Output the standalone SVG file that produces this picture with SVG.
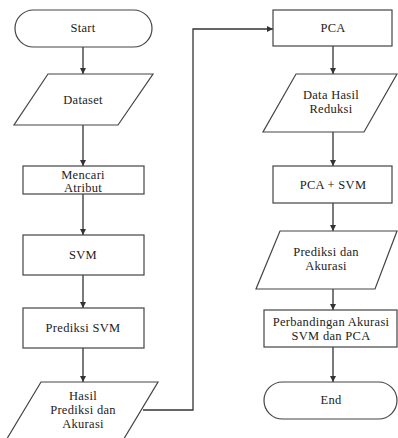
<svg xmlns="http://www.w3.org/2000/svg" width="398" height="438" viewBox="0 0 398 438">
<defs>
<marker id="ah" viewBox="0 0 8 8" refX="8" refY="4" markerWidth="6" markerHeight="6" markerUnits="userSpaceOnUse" orient="auto">
<path d="M0,0 L8,4 L0,8 z" fill="#333"/>
</marker>
</defs>
<style>
.s{fill:#fff;stroke:#444;stroke-width:1.2}
.c{fill:none;stroke:#333;stroke-width:1.3;marker-end:url(#ah)}
</style>
<rect width="398" height="438" fill="#fff"/>
<g id="connectors">
<line class="c" x1="83" y1="47" x2="83" y2="74"/>
<line class="c" x1="83" y1="125" x2="83" y2="166"/>
<line class="c" x1="83" y1="194" x2="83" y2="235"/>
<line class="c" x1="83" y1="275" x2="83" y2="308"/>
<line class="c" x1="83" y1="348" x2="83" y2="382"/>
<polyline class="c" points="143,410 193,410 193,29 273,29"/>
<line class="c" x1="333" y1="46" x2="333" y2="74"/>
<line class="c" x1="333" y1="132" x2="333" y2="166"/>
<line class="c" x1="333" y1="203" x2="333" y2="231"/>
<line class="c" x1="333" y1="289" x2="333" y2="310"/>
<line class="c" x1="333" y1="347" x2="333" y2="382"/>
</g>
<g font-family="Liberation Serif" font-size="12.5" fill="#222" text-anchor="middle" letter-spacing="0.3">
<g id="start">
<rect class="s" x="15" y="10" width="137" height="37" rx="18.5"/>
<text x="83" y="32">Start</text>
</g>
<g id="dataset">
<polygon class="s" points="48,74 153,74 118,125 14,125"/>
<text x="83" y="104">Dataset</text>
</g>
<g id="mencari">
<rect class="s" x="23" y="166" width="121" height="28"/>
<text x="83" y="179">Mencari</text>
<text x="83" y="192">Atribut</text>
</g>
<g id="svm">
<rect class="s" x="23" y="235" width="121" height="40"/>
<text x="83" y="259">SVM</text>
</g>
<g id="prediksi-svm">
<rect class="s" x="23" y="308" width="121" height="40"/>
<text x="83" y="332">Prediksi SVM</text>
</g>
<g id="hasil">
<polygon class="s" points="41,382 158,382 122,442 5,442"/>
<text x="83" y="400">Hasil</text>
<text x="83" y="414">Prediksi dan</text>
<text x="83" y="428">Akurasi</text>
</g>
<g id="pca">
<rect class="s" x="273" y="10" width="119" height="36"/>
<text x="333" y="32">PCA</text>
</g>
<g id="data-hasil">
<polygon class="s" points="296,74 397,74 364,132 263,132"/>
<text x="331" y="99">Data Hasil</text>
<text x="331" y="113">Reduksi</text>
</g>
<g id="pca-svm">
<rect class="s" x="273" y="166" width="119" height="37"/>
<text x="333" y="189">PCA + SVM</text>
</g>
<g id="prediksi-akurasi">
<polygon class="s" points="280,231 397,231 375,289 256,289"/>
<text x="326" y="256">Prediksi dan</text>
<text x="326" y="270">Akurasi</text>
</g>
<g id="perbandingan">
<rect class="s" x="264" y="310" width="133" height="37"/>
<text x="331" y="326">Perbandingan Akurasi</text>
<text x="331" y="340">SVM dan PCA</text>
</g>
<g id="end">
<rect class="s" x="264" y="382" width="133" height="37" rx="18.5"/>
<text x="331" y="404">End</text>
</g>
</g>
</svg>
